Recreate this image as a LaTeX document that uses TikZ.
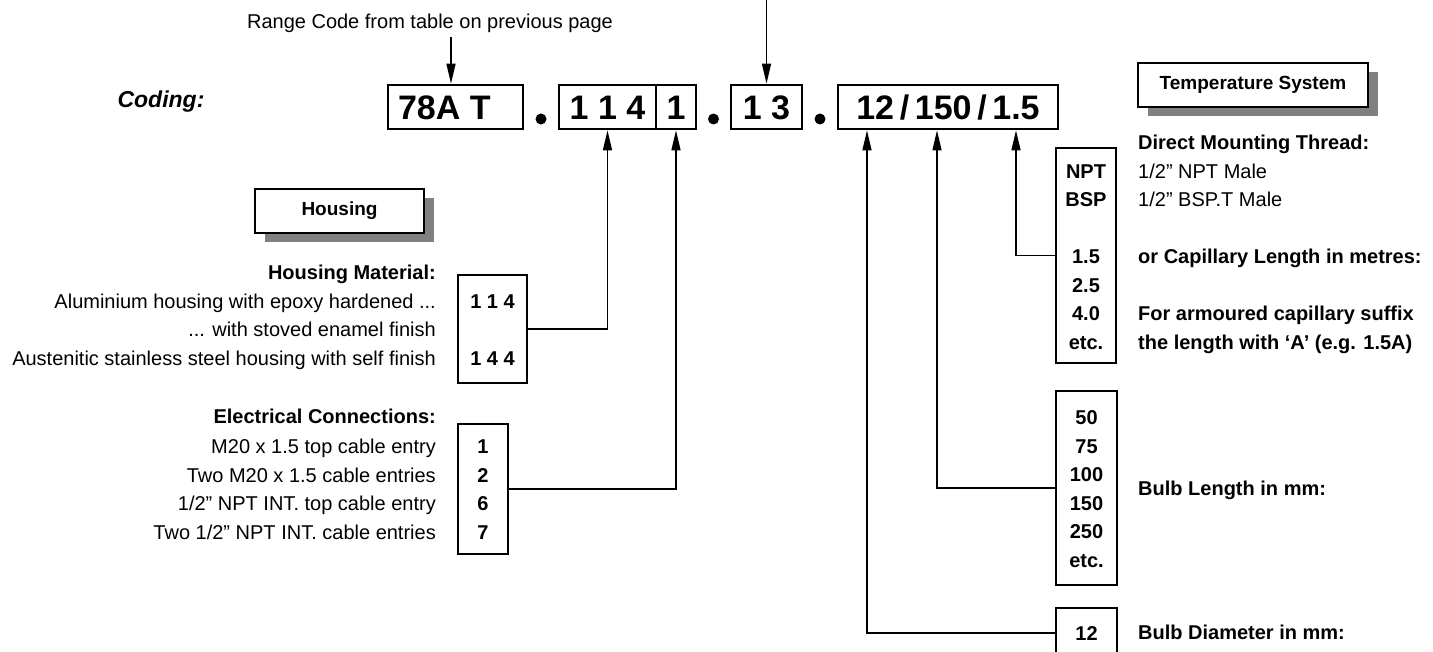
\documentclass[tikz,border=0pt]{standalone}
\usepackage{fontspec}
\setmainfont{Liberation Sans}
\usetikzlibrary{positioning, arrows.meta, shadows}

\tikzset{
  lbl/.style={font=\fontsize{20}{24}\selectfont, text height=14pt, text depth=0pt, inner sep=0pt},
  hdr/.style={lbl, font=\fontsize{20}{24}\selectfont\bfseries},
  num/.style={hdr},
  codebox/.style={draw, line width=2.7pt, minimum height=44pt, inner sep=0pt,
    font=\fontsize{34}{40}\selectfont\bfseries, text height=24.5pt, text depth=0pt},
  rowbox/.style={draw, line width=2.7pt, inner sep=0pt},
  tagbox/.style={draw, line width=2.2pt, fill=white, minimum height=44pt, inner sep=0pt,
    font=\fontsize{19}{23}\selectfont\bfseries,
    drop shadow={shadow xshift=10pt, shadow yshift=-9pt, fill=black!50, opacity=1}},
  arr/.style={line width=1.4pt, -{Triangle[length=20pt, width=9pt]}},
  dot/.style={circle, fill, inner sep=0pt, minimum size=11pt}
}

\begin{document}
\begin{tikzpicture}[x=1pt, y=-1pt]
  \useasboundingbox (0,0) rectangle (1433,652);

  % code line
  \node[lbl] (rcode) at (430,22) {Range Code from table on previous page};
  \node[lbl, font=\fontsize{23}{27}\selectfont\bfseries\itshape, text height=16pt] (coding) at (161,100) {Coding:};
  \node[codebox, minimum width=135pt] (range) at (455.5,107) {\makebox[115pt][l]{78A T}};
  \node[codebox, minimum width=97pt] (hsg) at (607.5,107) {1 1 4};
  \node[codebox, minimum width=40pt] (elec) at (676,107) {1};
  \node[codebox, minimum width=71pt] (sys) at (766.5,107) {1 3};
  \node[codebox, minimum width=220pt] (bulb) at (948,107) {12\,/\,150\,/\,1.5};
  \node[dot] (d1) at (541,119) {};
  \node[dot] (d2) at (713.5,119) {};
  \node[dot] (d3) at (820,119) {};

  \node[tagbox, minimum width=230pt] (temp) at (1253,85) {Temperature System};
  \node[tagbox, minimum width=169pt] (house) at (339.5,211) {Housing};

  % housing side
  \node[hdr, anchor=east] (hmat) at (436,273) {Housing Material:};
  \node[lbl, anchor=east] at (436,301.5) {Aluminium housing with epoxy hardened ...};
  \node[lbl, anchor=east] at (436,330) {... with stoved enamel finish};
  \node[lbl, anchor=east] at (436,358.5) {Austenitic stainless steel housing with self finish};
  \node[rowbox, minimum width=69pt, minimum height=108pt] (mat) at (492.5,329) {};
  \node[num] at (492.5,301.5) {1 1 4};
  \node[num] at (492.5,358.5) {1 4 4};

  \node[hdr, anchor=east] (hcon) at (436,417) {Electrical Connections:};
  \foreach \t [count=\i] in {M20 x 1.5 top cable entry, Two M20 x 1.5 cable entries,
      1/2” NPT INT. top cable entry, Two 1/2” NPT INT. cable entries}
    \node[lbl, anchor=east] at (436,418+28.5*\i) {\t};
  \foreach \n [count=\i] in {1,2,6,7}
    \node[num] at (483,418+28.5*\i) {\n};
  \node[rowbox, minimum width=50pt, minimum height=130pt] (conn) at (483,489) {};

  % temperature side
  \node[hdr, anchor=west] at (1138,143) {Direct Mounting Thread:};
  \node[lbl, anchor=west] at (1138,171.5) {1/2” NPT Male};
  \node[lbl, anchor=west] at (1138,200) {1/2” BSP.T Male};
  \node[hdr, anchor=west] at (1138,257) {or Capillary Length in metres:};
  \node[hdr, anchor=west] at (1138,314) {For armoured capillary suffix};
  \node[hdr, anchor=west] at (1138,342.5) {the length with ‘A’ (e.g. 1.5A)};
  \node[rowbox, minimum width=60pt, minimum height=215pt] (thr) at (1086,255.5) {};
  \foreach \n/\y in {NPT/171.5, BSP/200, 1.5/257, 2.5/285.5, 4.0/314, etc./342.5}
    \node[num] at (1086,\y) {\n};

  \node[rowbox, minimum width=61pt, minimum height=194pt] (blen) at (1086.5,488) {};
  \foreach \n [count=\i] in {50,75,100,150,250,etc.}
    \node[num] at (1086.5,389+28.5*\i) {\n};
  \node[hdr, anchor=west] at (1138,488) {Bulb Length in mm:};

  \node[rowbox, minimum width=61pt, minimum height=50pt] (bdia) at (1086.5,633) {};
  \node[num] at (1086.5,633) {12};
  \node[hdr, anchor=west] at (1138,632) {Bulb Diameter in mm:};

  % connectors
  \coordinate (pA) at ([xshift=-4.5pt]range.north);
  \coordinate (feed) at (sys.north |- 0,0);
  \coordinate (pD1) at ([xshift=-81pt]bulb.south);
  \coordinate (pD2) at ([xshift=-11pt]bulb.south);
  \coordinate (pD3) at ([xshift=68pt]bulb.south);
  \draw[arr, shorten <=8pt] (pA |- rcode.south) -- (pA);
  \draw[arr] (feed) -- (sys.north);
  \draw[arr] (mat.east) -| (hsg.south);
  \draw[arr] (conn.east) -| (elec.south);
  \draw[arr] (bdia.west) -| (pD1);
  \draw[arr] (blen.west) -| (pD2);
  \draw[arr] (thr.west) -| (pD3);
\end{tikzpicture}
\end{document}
